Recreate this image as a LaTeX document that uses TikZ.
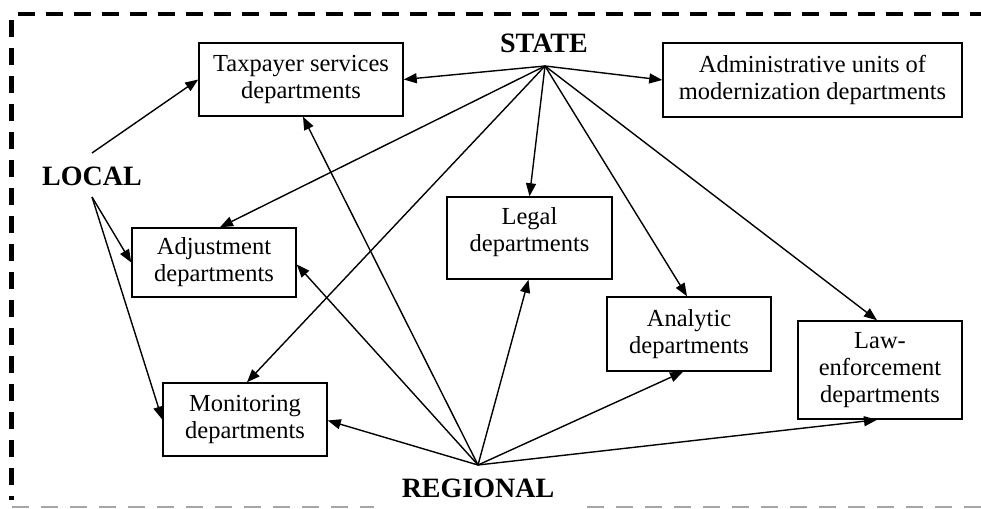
\documentclass[tikz,border=0pt]{standalone}
\usepackage{fontspec}
\setmainfont{Liberation Serif}
\usetikzlibrary{arrows.meta}
\begin{document}
\begin{tikzpicture}[x=1pt,y=-1pt,
 box/.style={draw, line width=1.5pt, inner sep=0pt, align=center, font=\fontsize{24.5}{27}\selectfont},
 lab/.style={font=\fontsize{28}{30}\selectfont\bfseries, inner sep=0pt, anchor=base},
 conn/.style={line width=1.4pt, -{Triangle[length=13pt,width=10pt]}},
 frame/.style={line width=4.5pt, dash pattern=on 17pt off 11pt}]
\useasboundingbox (0,0) rectangle (981,508);
\clip (0,0) rectangle (981,508);

% frame
\draw[frame, dash phase=22pt] (11.5,14) -- (995,14);
\draw[frame, dash phase=22pt] (11.5,14) -- (11.5,500);
\draw[line width=2pt, gray!70, dash pattern=on 17pt off 12pt] (12,507) -- (374,507);
\draw[line width=2pt, gray!70, dash pattern=on 17pt off 12pt] (587,507) -- (995,507);

% boxes
\node[box, minimum width=204pt, minimum height=73pt] (tax) at (301,79.5) {Taxpayer services\\departments};
\node[box, minimum width=299pt, minimum height=74pt] (adm) at (812.5,80) {Administrative units of\\modernization departments};
\node[box, minimum width=164pt, minimum height=69pt] (adj) at (214,262.5) {Adjustment\\departments};
\node[box, minimum width=165pt, minimum height=82pt] (leg) at (529.5,238) {Legal\\departments\rule[-17pt]{0pt}{17pt}};
\node[box, minimum width=164pt, minimum height=74pt] (ana) at (689,334) {Analytic\\departments};
\node[box, minimum width=164pt, minimum height=98pt] (law) at (880,370) {Law-\\enforcement\\departments};
\node[box, minimum width=164pt, minimum height=73pt] (mon) at (245,419.5) {Monitoring\\departments};

% labels
\node[lab] (state) at (544,53) {STATE};
\node[lab] (local) at (92,185) {LOCAL};
\node[lab] (regional) at (478,497) {REGIONAL};
\coordinate (sh) at (545,66);
\coordinate (lt) at (92,153);
\coordinate (lb) at (92,197);
\coordinate (rh) at (478,465);

% STATE connectors
\draw[conn] (sh) -- (tax.east);
\draw[conn] (sh) -- (adm.west);
\draw[conn] (sh) -- ([xshift=6pt]adj.north);
\draw[conn] (sh) -- ([xshift=2pt]mon.north);
\draw[conn] (sh) -- (leg.north);
\draw[conn] (sh) -- ([xshift=-2pt]ana.north);
\draw[conn] (sh) -- ([xshift=-3pt]law.north);

% LOCAL connectors
\draw[conn] (lt) -- (tax.west);
\draw[conn] (lb) -- (adj.west);
\draw[conn] (lb) -- (mon.west);

% REGIONAL connectors
\draw[conn] (rh) -- ([xshift=2pt]tax.south);
\draw[conn] (rh) -- ([yshift=-2pt]adj.east);
\draw[conn] (rh) -- ([yshift=-1pt]mon.east);
\draw[conn] (rh) -- ([xshift=-1pt]leg.south);
\draw[conn] (rh) -- ([xshift=-6pt]ana.south);
\draw[conn] (rh) -- ([xshift=-3pt]law.south);
\end{tikzpicture}
\end{document}
